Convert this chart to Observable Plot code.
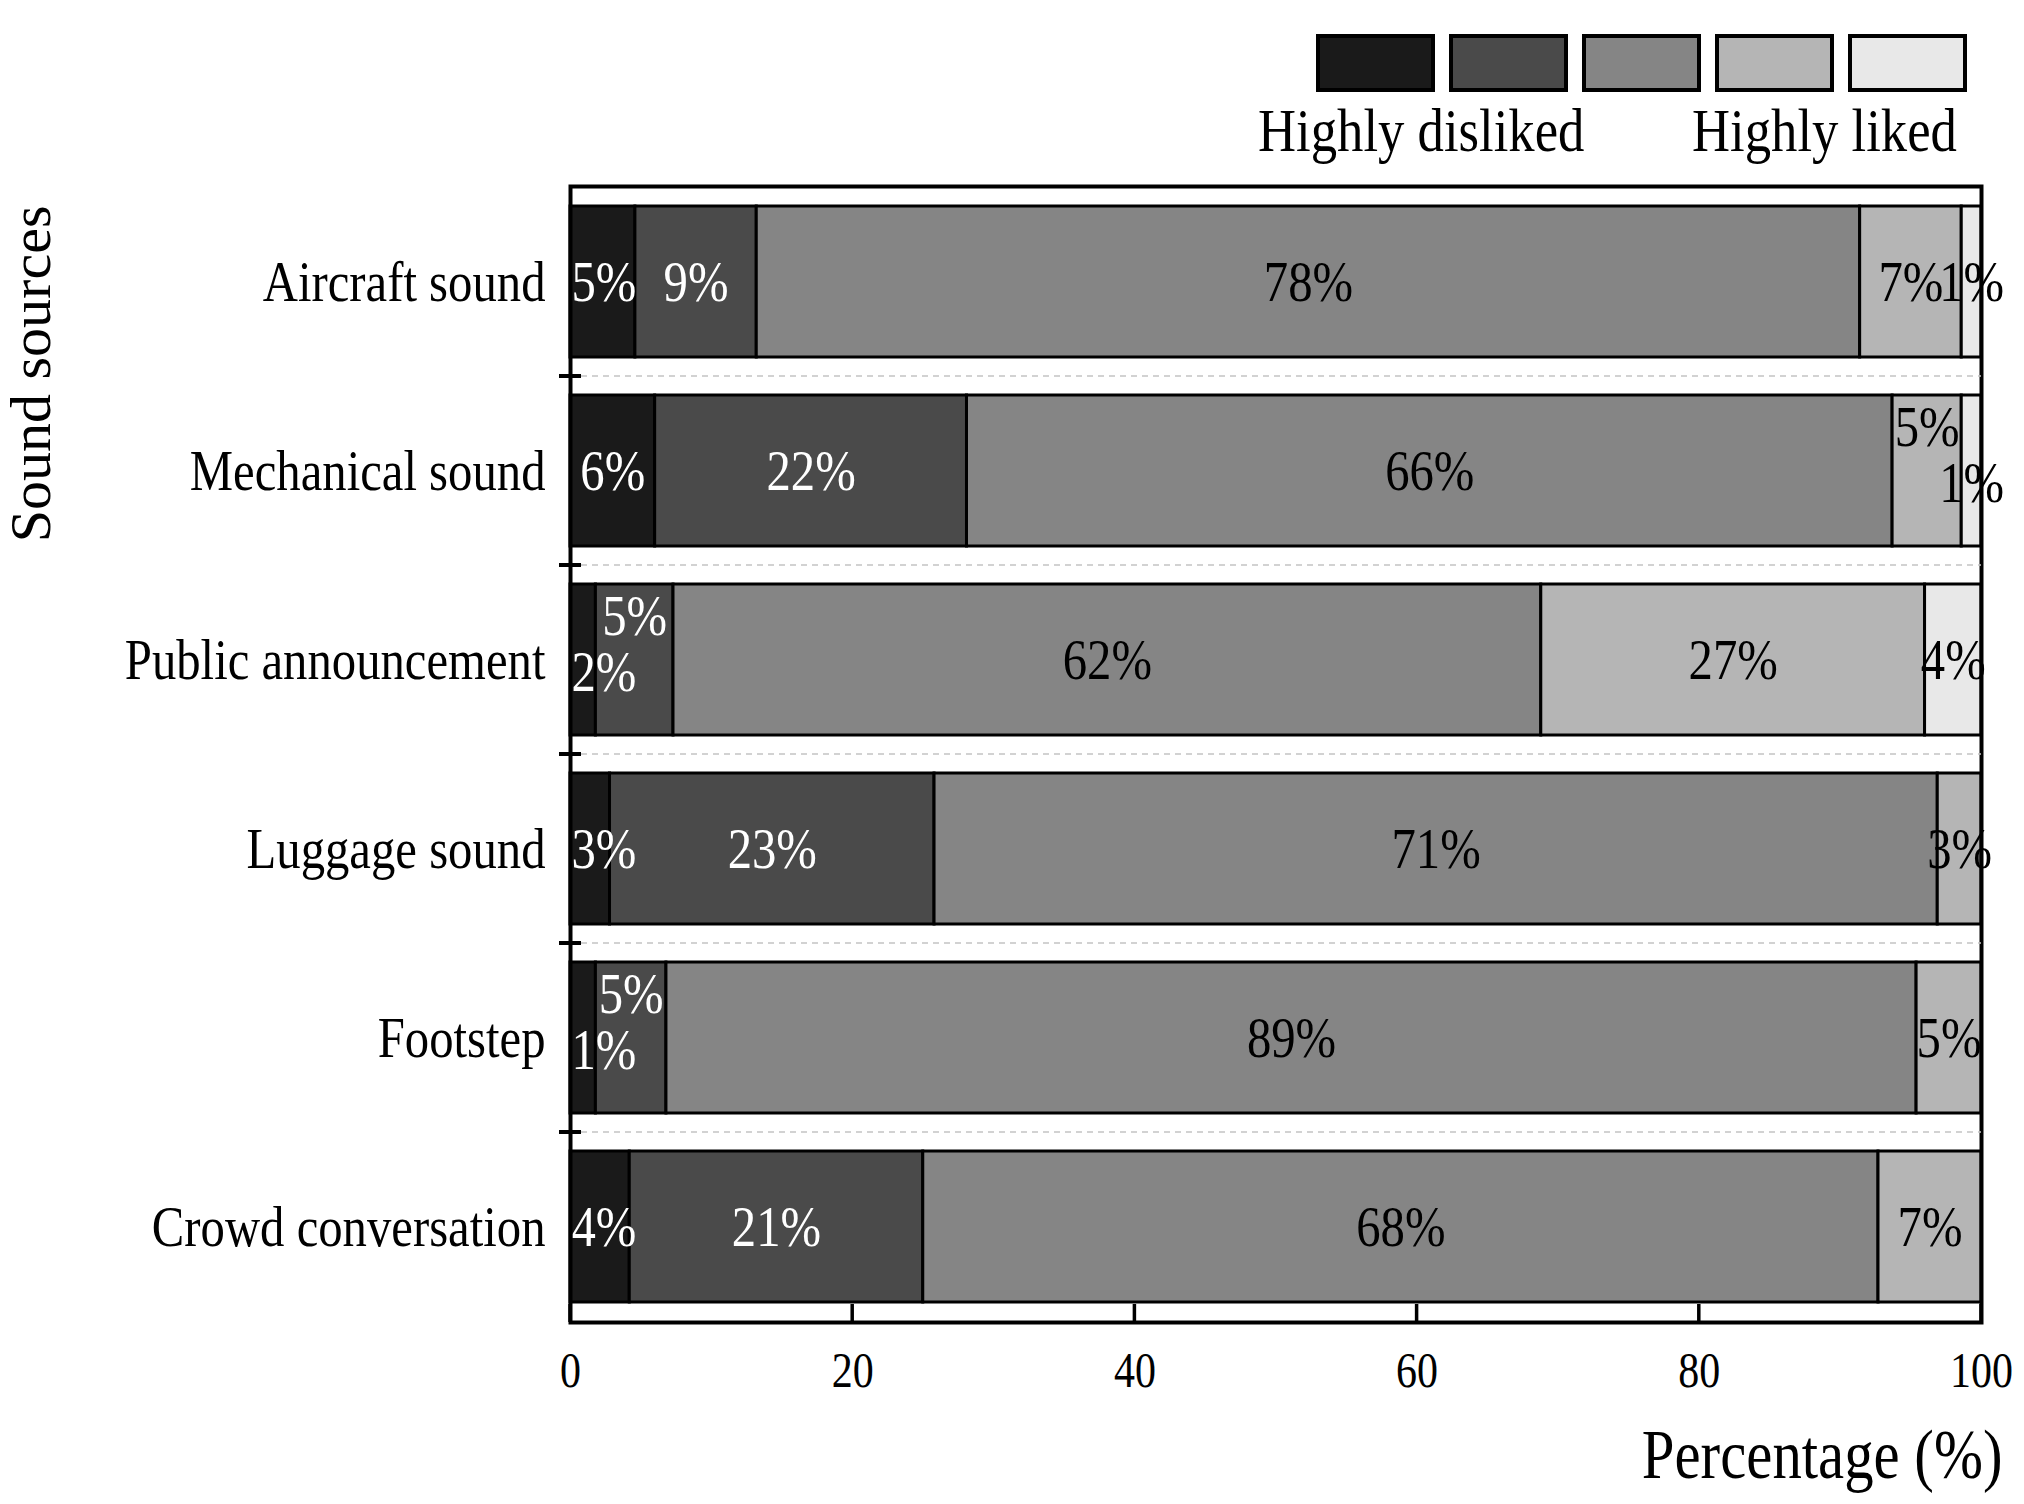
<!DOCTYPE html>
<html><head><meta charset="utf-8">
<script src="https://cdn.jsdelivr.net/npm/d3@7"></script>
<script src="https://cdn.jsdelivr.net/npm/@observablehq/plot@0.6"></script>
<style>
html,body{margin:0;padding:0;background:#fff;}
#wrap{width:2024px;font-family:'Liberation Serif','Times New Roman',serif;background:#fff;}
#legend{position:relative;width:2024px;height:170px;}
.sw{position:absolute;top:34px;width:119px;height:58px;border:4px solid #000;box-sizing:border-box;}
.lg{position:absolute;top:99px;font-size:62px;line-height:1;transform:scaleX(0.85);transform-origin:left center;white-space:nowrap;color:#000;}
</style></head>
<body><div id="wrap"><div id="legend"></div><div id="chart"></div></div>
<script>
// ---- data ----
const sources = ["Aircraft sound", "Mechanical sound", "Public announcement", "Luggage sound", "Footstep", "Crowd conversation"];
const levels = ["Highly disliked", "Disliked", "Neutral", "Liked", "Highly liked"];
const colors = ["#1a1a1a", "#4a4a4a", "#858585", "#b5b5b5", "#e8e8e8"];
const legendLabels = ["Highly disliked", "Highly liked"];

const aircraftValues   = [4.6, 8.6, 78.2, 7.2, 1.4];
const mechanicalValues = [6.0, 22.1, 65.6, 4.9, 1.4];
const publicValues     = [1.8, 5.5, 61.5, 27.2, 4.0];
const luggageValues    = [2.8, 23.0, 71.1, 3.1, 0];
const footstepValues   = [1.8, 5.0, 88.6, 4.6, 0];
const crowdValues      = [4.2, 20.8, 67.7, 7.3, 0];

const aircraftLabels   = ["5%", "9%", "78%", "7%", "1%"];
const mechanicalLabels = ["6%", "22%", "66%", "5%", "1%"];
const publicLabels     = ["2%", "5%", "62%", "27%", "4%"];
const luggageLabels    = ["3%", "23%", "71%", "3%", ""];
const footstepLabels   = ["1%", "5%", "89%", "5%", ""];
const crowdLabels      = ["4%", "21%", "68%", "7%", ""];

const xTicks = [0, 20, 40, 60, 80, 100];
const xLabel = "Percentage (%)";
const yLabel = "Sound sources";

const valueSets = [aircraftValues, mechanicalValues, publicValues, luggageValues, footstepValues, crowdValues];
const labelSets = [aircraftLabels, mechanicalLabels, publicLabels, luggageLabels, footstepLabels, crowdLabels];

// ---- layout constants ----
const W = 2024, H = 1334;
const M = {top: 16, right: 43, bottom: 182, left: 570};
const K = 0.84;          // horizontal condensation of the serif text
const LABEL_FS = 58;
const unitPx = (W - M.left - M.right) / 100;

// ---- build rows ----
const barRows = [];
const labelRows = [];
sources.forEach((s, si) => {
  const vals = valueSets[si], labs = labelSets[si];
  let cum = 0;
  const items = [];
  vals.forEach((v, li) => {
    if (v > 0) {
      barRows.push({source: s, level: levels[li], value: v});
      const mid = cum + v / 2;
      const hw = ((labs[li].length - 1) * 0.5 + 0.833) * LABEL_FS * K / 2 / unitPx;
      const mode = mid - hw < 0 ? "start" : "middle";
      items.push({source: s, label: labs[li], level: li, value: v, mid, mode, shift: 0,
        left: mode === "start" ? 0 : mid - hw, right: mode === "start" ? 2 * hw : mid + hw});
    }
    cum += v;
  });
  for (let i = 1; i < items.length; i++) {
    const a = items[i - 1], b = items[i];
    if (a.right - b.left > 0.5) {
      const big = a.value >= b.value ? a : b;
      const small = big === a ? b : a;
      big.shift = -1;
      small.shift = 1;
    }
  }
  labelRows.push(...items);
});

// ---- legend (HTML above the svg) ----
const legend = document.getElementById("legend");
colors.forEach((c, i) => {
  const d = document.createElement("div");
  d.className = "sw";
  d.style.left = (1316 + i * 133) + "px";
  d.style.background = c;
  legend.appendChild(d);
});
[[legendLabels[0], 1258], [legendLabels[1], 1692]].forEach(([t, l]) => {
  const d = document.createElement("div");
  d.className = "lg";
  d.style.left = l + "px";
  d.textContent = t;
  legend.appendChild(d);
});

// ---- custom structure mark: band-boundary dashed lines, y ticks, inward x ticks ----
function structure(index, scales, values, dim) {
  const {x, y} = scales;
  const g = d3.create("svg:g");
  const x0 = dim.marginLeft, x1 = dim.width - dim.marginRight;
  const yb = dim.height - dim.marginBottom;
  const bw = typeof y.bandwidth === "function" ? y.bandwidth() : (y.bandwidth || 0);
  for (let i = 1; i < sources.length; i++) {
    const yy = (y(sources[i - 1]) + bw + y(sources[i])) / 2;
    g.append("line").attr("x1", x0).attr("x2", x1).attr("y1", yy).attr("y2", yy)
      .attr("stroke", "#c4c4c4").attr("stroke-width", 1.5).attr("stroke-dasharray", "6,5");
    g.append("line").attr("x1", x0 - 11).attr("x2", x0 + 11).attr("y1", yy).attr("y2", yy)
      .attr("stroke", "#000").attr("stroke-width", 4);
  }
  for (const t of xTicks) {
    const xx = x(t);
    g.append("line").attr("x1", xx).attr("x2", xx).attr("y1", yb).attr("y2", yb - 18)
      .attr("stroke", "#000").attr("stroke-width", 3.5);
  }
  return g.node();
}

// ---- label marks ----
const labelMarks = [];
for (const white of [true, false]) for (const mode of ["start", "middle"]) for (const shift of [-1, 0, 1]) {
  const subset = labelRows.filter(d => (d.level < 2) === white && d.mode === mode && d.shift === shift);
  if (!subset.length) continue;
  labelMarks.push(Plot.text(subset, {
    x: mode === "start" ? (d => 0) : "mid",
    y: "source",
    text: "label",
    fill: white ? "#fff" : "#000",
    textAnchor: mode === "start" ? "start" : "middle",
    dx: mode === "start" ? 1 : 0,
    dy: shift < 0 ? -44 : shift > 0 ? 12 : 0,
    fontSize: LABEL_FS
  }));
}

const svg = Plot.plot({
  width: W, height: H,
  marginTop: M.top, marginRight: M.right, marginBottom: M.bottom, marginLeft: M.left,
  style: {fontFamily: "'Liberation Serif', 'Times New Roman', serif", background: "#fff", overflow: "visible", color: "#000"},
  x: {domain: [0, 100]},
  y: {domain: sources, paddingInner: 0.2, paddingOuter: 0.1},
  color: {type: "ordinal", domain: levels, range: colors},
  marks: [
    Plot.barX(barRows, Plot.stackX({x: "value", y: "source", fill: "level", stroke: "#000", strokeWidth: 3})),
    ...labelMarks,
    Plot.frame({stroke: "#000", strokeWidth: 4}),
    structure,
    Plot.axisX({ticks: xTicks, tickSize: 0, tickPadding: 29, fontSize: 50, label: null}),
    Plot.axisY({tickSize: 0, tickPadding: 25, fontSize: 58, label: null}),
    Plot.text([xLabel], {frameAnchor: "bottom-right", text: d => d, textAnchor: "end", dx: 21, dy: 155, fontSize: 70, fill: "#000"}),
    Plot.text([yLabel], {frameAnchor: "top-left", text: d => d, rotate: -90, textAnchor: "end", dx: -562, dy: 19, fontSize: 58, fill: "#000"})
  ]
});

// condense the serif text horizontally (except rotated text)
svg.querySelectorAll("text").forEach(t => {
  const tr = t.getAttribute("transform");
  if (tr && tr.includes("rotate")) return;
  if (tr) t.setAttribute("transform", tr + ` scale(${K},1)`);
  else {
    const x = +t.getAttribute("x") || 0;
    t.setAttribute("transform", `translate(${x},0) scale(${K},1) translate(${-x},0)`);
  }
});

document.getElementById("chart").appendChild(svg);
</script>
</body></html>
